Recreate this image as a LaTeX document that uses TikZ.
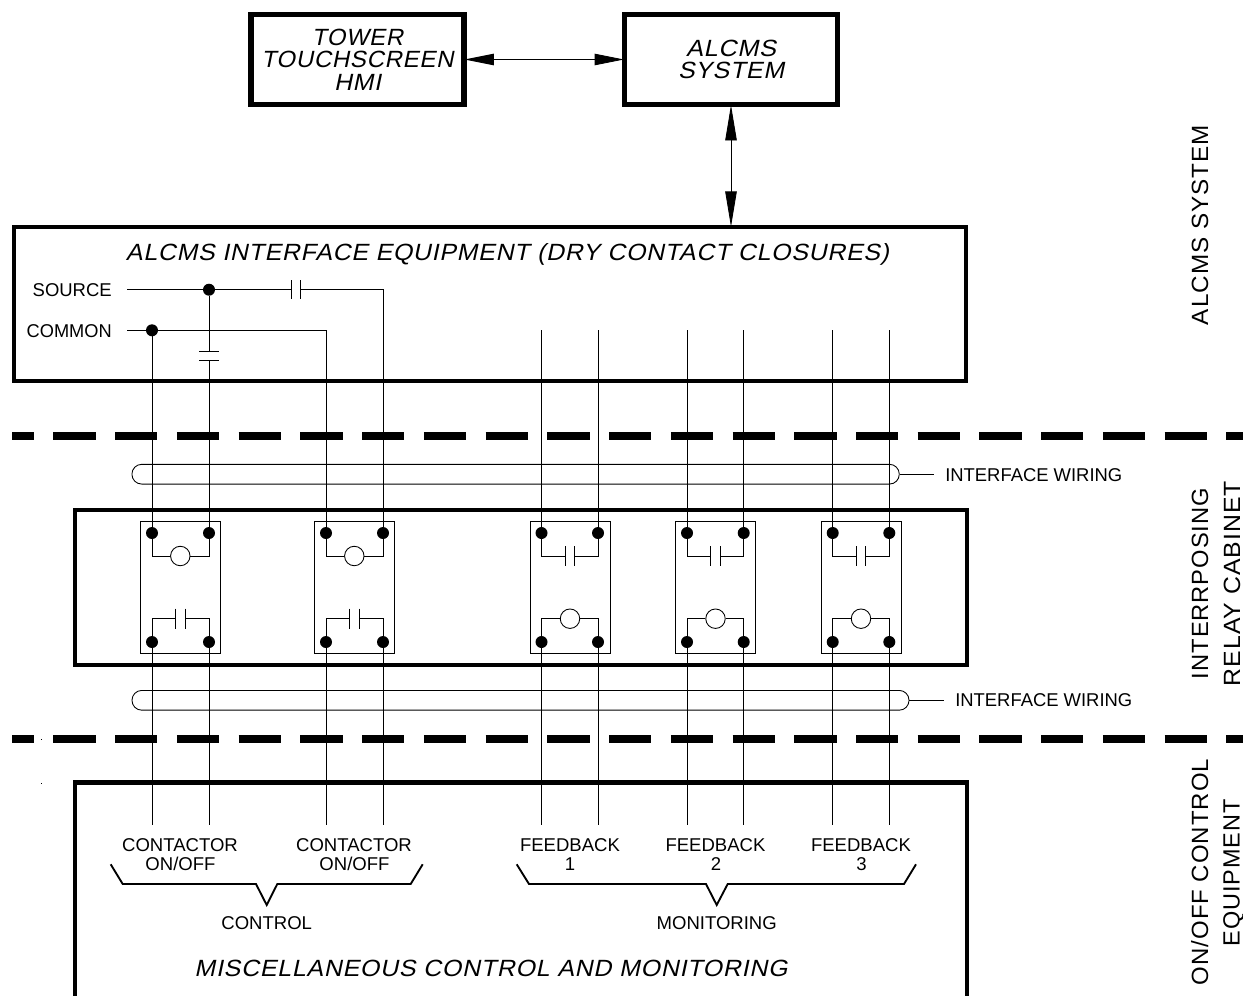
\documentclass[tikz,border=0pt]{standalone}
\usepackage{fontspec}
\usepackage{graphicx}
\setmainfont{Liberation Sans}
\newfontfamily\slantfont{Liberation Sans}[FakeSlant=0.2,LetterSpace=3]
\newfontfamily\spacedfont{Liberation Sans}[LetterSpace=4]
\usetikzlibrary{arrows.meta}
\newlength{\pxu}\setlength{\pxu}{0.75pt}
\newcommand\fitw[2]{\resizebox{#1\pxu}{\height}{#2}}
\tikzset{
  wire/.style={line width=0.65pt,line cap=butt},
  thickbox/.style={draw,line width=3.4pt,rectangle,inner sep=0pt,miter limit=10},
  topbox/.style={draw,line width=3.8pt,rectangle,inner sep=0pt,miter limit=10},
  relaybox/.style={draw,line width=0.65pt,rectangle,inner sep=0pt,minimum width=60pt,minimum height=99pt},
  dot/.style={circle,fill=black,draw=none,inner sep=0pt,outer sep=0pt,minimum size=9pt},
  coil/.style={circle,draw,line width=0.65pt,inner sep=0pt,minimum size=14.6pt},
  harness/.style={draw,line width=0.65pt,rectangle,inner sep=0pt,rounded corners=7.3pt},
  dbl/.style={line width=0.65pt,shorten >=-1.5pt,shorten <=-1.5pt,{Triangle[length=#1,width=8.6pt]}-{Triangle[length=#1,width=8.6pt]}},
  divider/.style={line width=5.6pt,dash pattern=on 31.7pt off 14.6pt,dash phase=15.2pt,line cap=butt},
  brace/.style={line width=1.4pt,line join=miter},
  lab/.style={font=\fontsize{13.9}{14.25}\selectfont,anchor=base,inner sep=0pt,align=center},
  bigit/.style={font=\slantfont\fontsize{17.6}{16.8}\selectfont,align=center},
  bigup/.style={font=\spacedfont\fontsize{17.6}{21}\selectfont,anchor=base,inner sep=0pt,rotate=90},
}
\newcommand\relaycoil[5]{%
  \node[coil] (#1) at (#4,#5) {};
  \draw[wire] (#2) |- (#1.west);
  \draw[wire] (#3) |- (#1.east);}
\newcommand\relaycontact[5]{%
  \coordinate (#1a) at (#4-4.7,#5);
  \coordinate (#1b) at (#4+4.7,#5);
  \draw[wire] (#4-4.7,#5-10) -- (#4-4.7,#5+10);
  \draw[wire] (#4+4.7,#5-10) -- (#4+4.7,#5+10);
  \draw[wire] (#2) |- (#1a);
  \draw[wire] (#3) |- (#1b);}
% name, left wire x, right wire x, centre x, control(0)/monitor(1)
\newcommand\relayunit[5]{%
  \node[relaybox] (#1box) at (#4,587) {};
  \node[dot] (#1tl) at (#2,533) {};
  \node[dot] (#1tr) at (#3,533) {};
  \node[dot] (#1bl) at (#2,642) {};
  \node[dot] (#1br) at (#3,642) {};
  \ifnum#5=0
    \relaycoil{#1up}{#1tl}{#1tr}{#4}{556}
    \relaycontact{#1lo}{#1bl}{#1br}{#4}{618.7}
  \else
    \relaycontact{#1up}{#1tl}{#1tr}{#4}{556}
    \relaycoil{#1lo}{#1bl}{#1br}{#4}{618.7}
  \fi
  \coordinate (#1el) at (#2,825);
  \coordinate (#1er) at (#3,825);
  \draw[wire] (#1bl) -- (#1el);
  \draw[wire] (#1br) -- (#1er);}
\begin{document}
\begin{tikzpicture}[x=0.75pt,y=-0.75pt]
\useasboundingbox (0,0) rectangle (1243,996);
\clip (0,0) rectangle (1243,996);

% dividers
\coordinate (div1a) at (12,436); \coordinate (div1b) at (1243,436);
\coordinate (div2a) at (12,739); \coordinate (div2b) at (1243,739);
\draw[divider] (div1a) -- (div1b);
\draw[divider] (div2a) -- (div2b);
\fill (40.6,738.6) rectangle (41.6,739.6);
\fill (40.6,782.6) rectangle (41.6,783.6);

% top boxes
\node[topbox,minimum width=159.75pt,minimum height=67.6pt,bigit] (hmi) at (357.5,59.5)
  {\fitw{91}{TOWER}\\\fitw{192}{TOUCHSCREEN}\\\fitw{47}{HMI}};
\node[topbox,minimum width=159.75pt,minimum height=67.6pt,bigit] (alcms) at (731,59.5)
  {\fitw{90}{ALCMS}\\\fitw{106}{SYSTEM}};

% interface equipment
\node[thickbox,minimum width=714pt,minimum height=115.5pt] (ifbox) at (490,304) {};
\node[bigit,anchor=base,inner sep=0pt] (iftitle) at (507.5,260)
  {\fitw{763}{ALCMS INTERFACE EQUIPMENT (DRY CONTACT CLOSURES)}};
\draw[dbl=22pt] (hmi.east) -- (alcms.west);
\draw[dbl=26.5pt] (alcms.south) -- (alcms.south |- ifbox.north);

% relay cabinet
\node[thickbox,minimum width=669pt,minimum height=116.25pt] (cab) at (521,587.5) {};

% misc box (runs off the bottom of the sheet)
\coordinate (mll) at (75,1000);
\coordinate (mtl) at (75,782.5);
\coordinate (mtr) at (967,782.5);
\coordinate (mlr) at (967,1000);
\draw[line width=3.4pt,miter limit=10] (mll) -- (mtl) -- (mtr) -- (mlr);
\node[bigit,anchor=base,inner sep=0pt] (misctitle) at (491,976.7)
  {\fitw{593}{MISCELLANEOUS CONTROL AND MONITORING}};

% harnesses
\node[harness,minimum width=575.5pt,minimum height=14.8pt] (har1) at (515.6,474.2) {};
\node[harness,minimum width=582.75pt,minimum height=14.8pt] (har2) at (520.5,700.3) {};
\node[lab,anchor=base west,inner xsep=8.25pt] (har1lab) at (934,481) {\fitw{177}{INTERFACE WIRING}};
\node[lab,anchor=base west,inner xsep=8.25pt] (har2lab) at (944,706.7) {\fitw{177}{INTERFACE WIRING}};
\draw[wire] (har1.east) -- (har1lab.west |- har1.east);
\draw[wire] (har2.east) -- (har2lab.west |- har2.east);

% relays
\relayunit{ra}{152}{209}{180.3}{0}
\relayunit{rb}{326}{383}{354.3}{0}
\relayunit{rc}{541.5}{598}{570}{1}
\relayunit{rd}{687}{743.7}{715.5}{1}
\relayunit{re}{832.7}{889.3}{861}{1}

% source / common
\node[lab,anchor=base east] (srclab) at (112,296.3) {\fitw{79}{SOURCE}};
\node[lab,anchor=base east] (cmnlab) at (112,337) {\fitw{85}{COMMON}};
\coordinate (srcs) at (127,289.7);
\coordinate (cmns) at (127,330.3);
\node[dot] (js) at (209,289.7) {};
\node[dot] (jc) at (152,330.3) {};
\draw[wire] (srcs) -- (js);
\draw[wire] (cmns) -- (jc);
\coordinate (cha) at (291,289.7);
\coordinate (chb) at (300.3,289.7);
\draw[wire] (291,280) -- (291,299.4);
\draw[wire] (300.3,280) -- (300.3,299.4);
\draw[wire] (js) -- (cha);
\draw[wire] (chb) -| (rbtr);
\coordinate (cva) at (209,351.3);
\coordinate (cvb) at (209,360.3);
\draw[wire] (199.3,351.3) -- (218.7,351.3);
\draw[wire] (199.3,360.3) -- (218.7,360.3);
\draw[wire] (js) -- (cva);
\draw[wire] (cvb) -- (ratr);
\draw[wire] (jc) -- (ratl);
\draw[wire] (jc) -| (rbtl);

% feedback wires from interface equipment
\coordinate (fc1) at (541.5,330); \coordinate (fc2) at (598,330);
\coordinate (fd1) at (687,330);   \coordinate (fd2) at (743.7,330);
\coordinate (fe1) at (832.7,330); \coordinate (fe2) at (889.3,330);
\draw[wire] (fc1) -- (rctl);
\draw[wire] (fc2) -- (rctr);
\draw[wire] (fd1) -- (rdtl);
\draw[wire] (fd2) -- (rdtr);
\draw[wire] (fe1) -- (retl);
\draw[wire] (fe2) -- (retr);

% bottom labels
\node[lab] (con1) at (180,851) {CONTACTOR};
\node[lab] (con1b) at (180.5,870) {ON/OFF};
\node[lab] (con2) at (354,851) {CONTACTOR};
\node[lab] (con2b) at (354.5,870) {ON/OFF};
\node[lab] (fb1) at (570,851) {FEEDBACK};
\node[lab] (fb1b) at (570,870) {1};
\node[lab] (fb2) at (715.5,851) {FEEDBACK};
\node[lab] (fb2b) at (716,870) {2};
\node[lab] (fb3) at (861,851) {FEEDBACK};
\node[lab] (fb3b) at (861.5,870) {3};
\draw[brace] (110.7,864.3) -- (122.7,884) -- (256,884) -- (266.7,905) -- (277.3,884) -- (410.7,884) -- (422.7,864.3);
\draw[brace] (516.7,864.3) -- (529,884) -- (706,884) -- (716.7,905) -- (727.7,884) -- (904,884) -- (916,864.3);
\node[lab] (ctl) at (266.7,929) {CONTROL};
\node[lab] (mon) at (716.7,929) {MONITORING};

% side labels
\node[bigup] (s1) at (1208,225) {\fitw{200}{ALCMS SYSTEM}};
\node[bigup] (s2) at (1208,583.5) {\fitw{191}{INTERRPOSING}};
\node[bigup] (s3) at (1240,583.5) {\fitw{205}{RELAY CABINET}};
\node[bigup] (s4) at (1208,872) {\fitw{226}{ON/OFF CONTROL}};
\node[bigup] (s5) at (1239.5,873) {\fitw{147}{EQUIPMENT}};
\end{tikzpicture}
\end{document}
